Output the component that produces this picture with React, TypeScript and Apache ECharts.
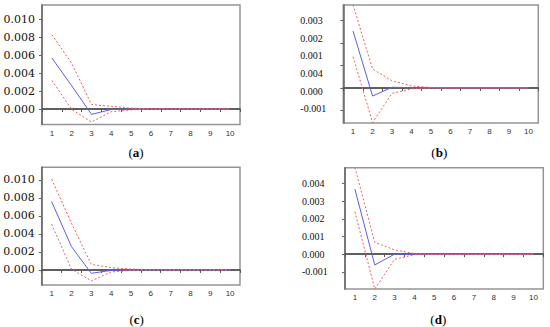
import React, { useEffect, useRef } from 'react';
import * as echarts from 'echarts';

// ---- data ----
const categories = ['1', '2', '3', '4', '5', '6', '7', '8', '9', '10'];

// panel (a)
const aMid = [0.0057, 0.0026, -0.0006, -0.00005, 0, 0, 0, 0, 0, 0];
const aUpper = [0.0083, 0.0051, 0.0005, 0.0003, 0.0001, 0.00002, 0, 0, 0, 0];
const aLower = [0.0032, -0.00005, -0.00145, -0.0003, -0.0001, 0, 0, 0, 0, 0];
const aTicks = [0, 0.002, 0.004, 0.006, 0.008, 0.01];

// panel (b)
const bMid = [0.00253, -0.00036, 0.00003, 0.00001, 0, 0, 0, 0, 0, 0];
const bUpper = [0.0037, 0.00084, 0.00032, 0.00009, 0.00002, 0, 0, 0, 0, 0];
const bLower = [0.00139, -0.00154, -0.00024, -0.00004, 0, 0, 0, 0, 0, 0];
const bTicks = [-0.001, 0, 0.001, 0.002, 0.003];
const bLabels = ['-0.001', '0.000', '0.004', '0.001', '0.002', '0.003'];

// panel (c)
const cMid = [0.0076, 0.0026, -0.00037, -0.00005, 0, 0, 0, 0, 0, 0];
const cUpper = [0.0101, 0.0052, 0.00063, 0.00026, 0.0001, 0.00003, 0, 0, 0, 0];
const cLower = [0.0051, 0.0001, -0.00122, -0.00022, -0.00005, 0, 0, 0, 0, 0];
const cTicks = [0, 0.002, 0.004, 0.006, 0.008, 0.01];

// panel (d)
const dMid = [0.00368, -0.00061, 0, 0, 0, 0, 0, 0, 0, 0];
const dUpper = [0.0049, 0.00067, 0.00024, 0.00004, 0, 0, 0, 0, 0, 0];
const dLower = [0.0024, -0.00197, -0.00029, -0.00003, 0, 0, 0, 0, 0, 0];
const dTicks = [-0.001, 0, 0.001, 0.002, 0.003, 0.004];

const captions = ['a', 'b', 'c', 'd'];

// ---- layout ----
const panels = [
  { left: 42, top: 5, width: 198, height: 119.5, min: -0.00173, max: 0.01162, mid: aMid, upper: aUpper, lower: aLower, ticks: aTicks, font: 'DejaVu Serif', size: 11, margin: 38.5, showLabels: true, capX: 136, capY: 152.5 },
  { left: 343.3, top: 5, width: 195, height: 118, min: -0.00156, max: 0.00369, mid: bMid, upper: bUpper, lower: bLower, ticks: bTicks, font: 'Liberation Serif', size: 10, margin: 43, showLabels: false, capX: 439.3, capY: 152.7 },
  { left: 41.7, top: 167.3, width: 198.3, height: 117.7, min: -0.00167, max: 0.01141, mid: cMid, upper: cUpper, lower: cLower, ticks: cTicks, font: 'DejaVu Serif', size: 11, margin: 38.5, showLabels: true, capX: 136.7, capY: 319.3 },
  { left: 345, top: 167.7, width: 198.3, height: 121.3, min: -0.00197, max: 0.00489, mid: dMid, upper: dUpper, lower: dLower, ticks: dTicks, font: 'Liberation Serif', size: 10, margin: 43, showLabels: true, capX: 438.3, capY: 319.3 },
];

const BLUE = '#5c5cf5';
const RED = '#ff5a5a';

function buildOption() {
  const grid: any[] = [];
  const xAxis: any[] = [];
  const yAxis: any[] = [];
  const series: any[] = [];
  const graphic: any[] = [];

  panels.forEach((p, i) => {
    grid.push({
      left: p.left, top: p.top, width: p.width, height: p.height,
      show: true, borderColor: '#959595', borderWidth: 1.5, backgroundColor: 'transparent',
    });
    xAxis.push({
      type: 'category', gridIndex: i, data: categories, boundaryGap: true,
      axisLine: { lineStyle: { color: '#555', width: 1.5 } },
      axisTick: { show: true, interval: 0, length: 3, lineStyle: { color: '#555' } },
      axisLabel: { interval: 0, fontSize: 8, fontFamily: 'Liberation Sans', color: '#333', margin: 4.5 },
      splitLine: { show: false },
    });
    yAxis.push({
      type: 'value', gridIndex: i, min: p.min, max: p.max,
      axisLine: { show: true, lineStyle: { color: '#666', width: 1.5 } },
      axisTick: { show: true, length: 3, customValues: p.ticks, lineStyle: { color: '#666' } },
      axisLabel: {
        show: p.showLabels, customValues: p.ticks,
        formatter: (v: number) => v.toFixed(3),
        align: 'left', margin: p.margin, fontFamily: p.font, fontSize: p.size, color: '#111',
      },
      splitLine: { show: false },
    });
    series.push({
      type: 'line', xAxisIndex: i, yAxisIndex: i, data: p.mid, symbol: 'none', z: 3,
      lineStyle: { color: BLUE, width: 1 },
      markLine: {
        silent: true, symbol: 'none', z: 1, label: { show: false },
        lineStyle: { color: '#555', width: 1.5, type: 'solid' },
        data: [{ yAxis: 0 }],
      },
    });
    [p.upper, p.lower].forEach((d) => {
      series.push({
        type: 'line', xAxisIndex: i, yAxisIndex: i, data: d, symbol: 'none', z: 4,
        lineStyle: { color: RED, width: 1, type: [2, 2] },
      });
    });
    graphic.push({
      type: 'text', x: p.capX, y: p.capY,
      style: {
        text: '{p|(}{b|' + captions[i] + '}{p|)}',
        align: 'center', verticalAlign: 'middle',
        rich: {
          p: { fontFamily: 'Liberation Serif', fontSize: 13, fill: '#000' },
          b: { fontFamily: 'Liberation Serif', fontSize: 13, fontWeight: 'bold', fill: '#000' },
        },
      },
    });
  });

  // label-only grid for panel (b)
  grid.push({ left: 343.3, top: 20.7, width: 195, height: 88, show: false });
  xAxis.push({ type: 'value', gridIndex: 4, show: false, min: 0, max: 1 });
  yAxis.push({
    type: 'category', gridIndex: 4, data: bLabels, boundaryGap: false,
    axisLine: { show: false }, axisTick: { show: false }, splitLine: { show: false },
    axisLabel: { interval: 0, align: 'left', margin: 43, fontFamily: 'Liberation Serif', fontSize: 10, color: '#111' },
  });

  return {
    animation: false,
    backgroundColor: '#fff',
    grid, xAxis, yAxis, series, graphic,
  };
}

export default function App() {
  const ref = useRef<HTMLDivElement>(null);
  useEffect(() => {
    const chart = echarts.init(ref.current!, null, { renderer: 'svg' });
    chart.setOption(buildOption() as any);
    return () => chart.dispose();
  }, []);
  return (
    <div
      ref={ref}
      style={{ position: 'fixed', left: 0, top: 0, width: 550, height: 327, background: '#fff' }}
    />
  );
}
